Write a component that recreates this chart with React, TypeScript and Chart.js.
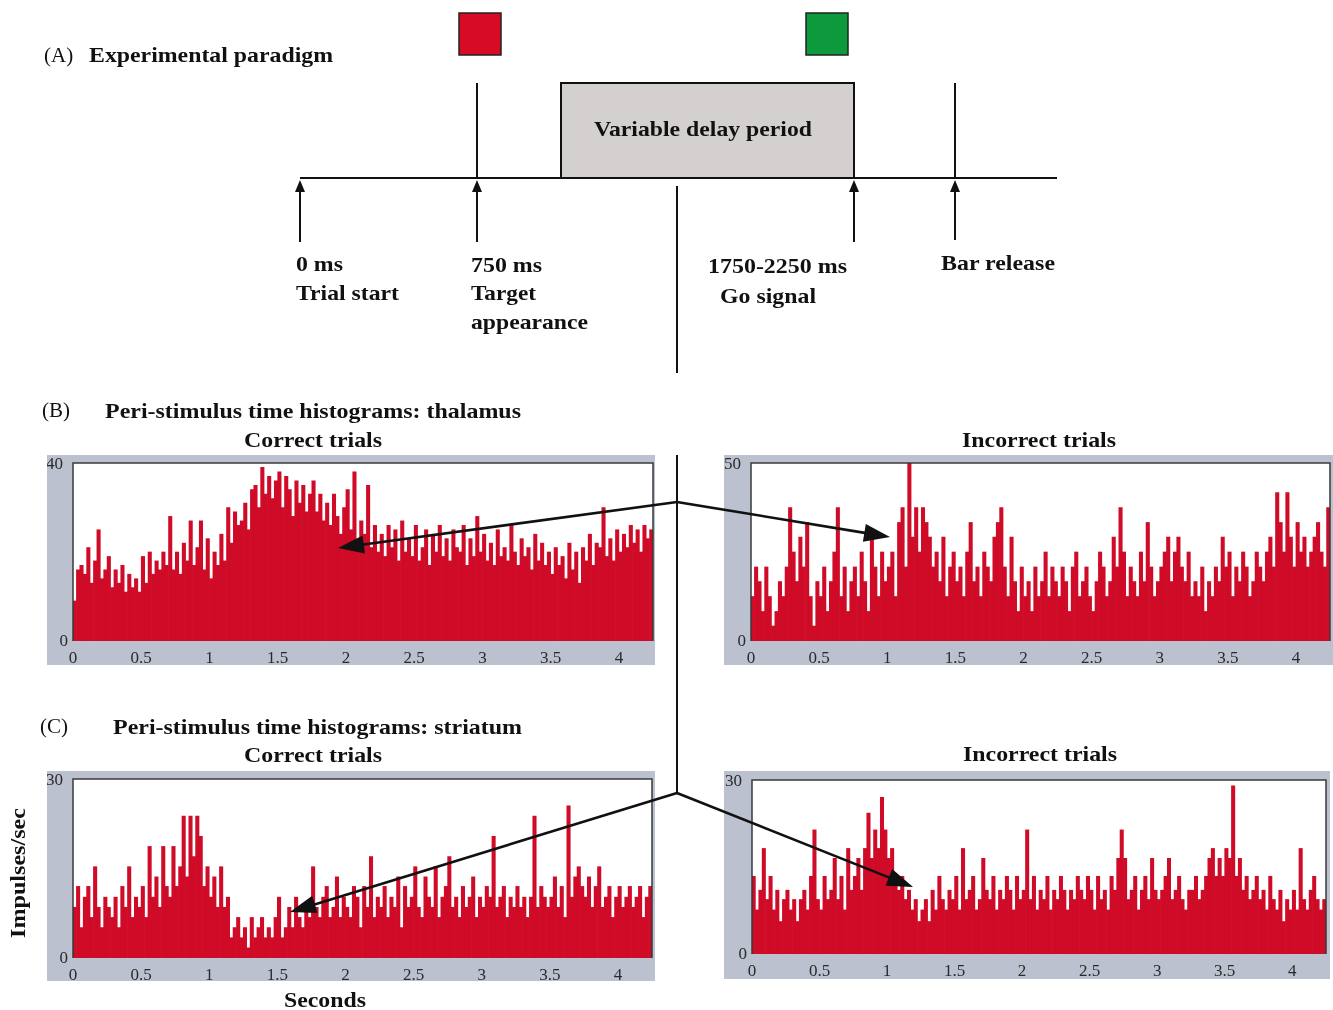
import React, { useEffect, useRef } from "react";
import { Chart, registerables } from "chart.js";

Chart.register(...registerables);

// ---------- data ----------
const BIN_WIDTH_S = 0.025;
const X_MAX = 4.25;
const X_TICK_STEP = 0.5;
const Y_MAX_THAL_CORRECT = 40;
const Y_MAX_THAL_INCORRECT = 50;
const Y_MAX_STRI_CORRECT = 30;
const Y_MAX_STRI_INCORRECT = 30;

// impulses/sec per 25 ms bin, 0 .. 4.25 s
const THAL_CORRECT = [
  9, 16, 17, 15, 21, 13, 18, 25, 14, 16,
  19, 12, 16, 13, 17, 11, 15, 12, 14, 11,
  19, 13, 20, 15, 18, 16, 20, 17, 28, 16,
  20, 15, 22, 18, 27, 17, 21, 27, 16, 23,
  14, 20, 17, 24, 18, 30, 22, 29, 26, 27,
  31, 25, 34, 35, 30, 39, 33, 37, 32, 36,
  38, 30, 37, 34, 28, 36, 31, 35, 29, 33,
  36, 29, 33, 27, 31, 26, 33, 28, 24, 30,
  34, 25, 38, 22, 27, 24, 35, 21, 26, 20,
  24, 19, 26, 21, 25, 18, 27, 20, 23, 19,
  26, 18, 21, 25, 17, 24, 20, 26, 19, 23,
  18, 25, 21, 20, 26, 17, 23, 19, 28, 20,
  24, 18, 22, 17, 25, 19, 21, 18, 26, 20,
  17, 23, 19, 21, 16, 24, 18, 22, 17, 20,
  15, 21, 17, 19, 14, 22, 16, 20, 13, 21,
  18, 24, 17, 22, 21, 30, 19, 23, 18, 25,
  20, 24, 21, 26, 22, 25, 20, 26, 23, 25,
];

const THAL_INCORRECT = [
  12.5, 20.8, 16.7, 8.3, 20.8, 12.5, 4.2, 8.3, 16.7, 12.5,
  20.8, 37.5, 25, 16.7, 29.2, 20.8, 33.3, 12.5, 4.2, 16.7,
  12.5, 20.8, 8.3, 16.7, 25, 37.5, 12.5, 20.8, 8.3, 16.7,
  20.8, 12.5, 25, 16.7, 8.3, 29.2, 20.8, 12.5, 25, 16.7,
  20.8, 25, 12.5, 33.3, 37.5, 20.8, 50, 29.2, 37.5, 25,
  37.5, 33.3, 29.2, 20.8, 25, 16.7, 29.2, 12.5, 20.8, 25,
  16.7, 20.8, 12.5, 25, 33.3, 16.7, 20.8, 12.5, 25, 20.8,
  16.7, 29.2, 33.3, 37.5, 20.8, 12.5, 29.2, 16.7, 8.3, 20.8,
  12.5, 16.7, 8.3, 20.8, 12.5, 16.7, 25, 12.5, 20.8, 16.7,
  12.5, 20.8, 16.7, 8.3, 20.8, 25, 12.5, 16.7, 20.8, 12.5,
  8.3, 16.7, 25, 20.8, 12.5, 16.7, 29.2, 20.8, 37.5, 25,
  12.5, 20.8, 16.7, 12.5, 25, 16.7, 33.3, 20.8, 12.5, 16.7,
  20.8, 25, 29.2, 16.7, 25, 29.2, 20.8, 16.7, 25, 12.5,
  16.7, 12.5, 20.8, 8.3, 16.7, 12.5, 20.8, 16.7, 29.2, 20.8,
  25, 12.5, 20.8, 16.7, 25, 20.8, 12.5, 16.7, 25, 20.8,
  16.7, 25, 29.2, 20.8, 41.7, 33.3, 25, 41.7, 29.2, 20.8,
  33.3, 25, 29.2, 20.8, 25, 29.2, 33.3, 25, 20.8, 37.5,
];

const STRI_CORRECT = [
  8.5, 12, 5.1, 10.2, 12, 6.8, 15.3, 8.5, 5.1, 10.2,
  8.5, 6.8, 10.2, 5.1, 12, 8.5, 15.3, 6.8, 10.2, 8.5,
  12, 6.8, 18.7, 10.2, 13.6, 8.5, 18.7, 12, 10.2, 18.7,
  12, 15.3, 23.8, 13.6, 23.8, 17, 23.8, 20.4, 12, 15.3,
  10.2, 13.6, 8.5, 15.3, 8.5, 10.2, 3.4, 5.1, 6.8, 3.4,
  5.1, 1.7, 6.8, 3.4, 5.1, 6.8, 3.4, 5.1, 3.4, 6.8,
  10.2, 3.4, 5.1, 8.5, 5.1, 10.2, 6.8, 5.1, 8.5, 6.8,
  15.3, 8.5, 6.8, 10.2, 12, 6.8, 8.5, 13.6, 6.8, 10.2,
  8.5, 6.8, 12, 10.2, 5.1, 12, 8.5, 17, 6.8, 10.2,
  8.5, 12, 6.8, 10.2, 8.5, 13.6, 5.1, 12, 8.5, 10.2,
  15.3, 8.5, 6.8, 13.6, 10.2, 8.5, 15.3, 6.8, 10.2, 12,
  17, 8.5, 10.2, 6.8, 12, 8.5, 10.2, 13.6, 6.8, 10.2,
  8.5, 12, 10.2, 20.4, 8.5, 10.2, 12, 6.8, 10.2, 8.5,
  12, 8.5, 10.2, 6.8, 10.2, 23.8, 8.5, 12, 10.2, 8.5,
  10.2, 13.6, 8.5, 12, 6.8, 25.5, 10.2, 13.6, 15.3, 12,
  10.2, 13.6, 8.5, 12, 15.3, 8.5, 10.2, 12, 6.8, 10.2,
  12, 8.5, 10.2, 12, 8.5, 10.2, 12, 6.8, 10.2, 12,
];

const STRI_INCORRECT = [
  13.4, 7.6, 11, 18.2, 9.4, 13.4, 7.6, 11, 5.6, 9.4,
  11, 7.6, 9.4, 5.6, 9.4, 11, 7.6, 13.4, 21.4, 9.4,
  7.6, 13.4, 9.4, 11, 16.5, 9.4, 13.4, 7.6, 18.2, 11,
  13.4, 16.5, 11, 18.2, 24.3, 16.5, 21.4, 18.2, 27, 21.4,
  16.5, 18.2, 13.4, 11, 13.4, 9.4, 11, 7.6, 9.4, 5.6,
  7.6, 9.4, 5.6, 11, 7.6, 13.4, 9.4, 7.6, 11, 9.4,
  13.4, 7.6, 18.2, 9.4, 11, 13.4, 7.6, 9.4, 16.5, 11,
  9.4, 13.4, 7.6, 11, 9.4, 13.4, 11, 7.6, 13.4, 9.4,
  11, 21.4, 9.4, 13.4, 7.6, 11, 9.4, 13.4, 7.6, 11,
  9.4, 13.4, 11, 7.6, 11, 9.4, 13.4, 11, 9.4, 13.4,
  11, 7.6, 13.4, 9.4, 11, 7.6, 13.4, 11, 16.5, 21.4,
  16.5, 9.4, 11, 13.4, 7.6, 11, 13.4, 9.4, 16.5, 11,
  9.4, 11, 13.4, 16.5, 9.4, 11, 13.4, 9.4, 7.6, 11,
  11, 13.4, 9.4, 11, 13.4, 16.5, 18.2, 13.4, 16.5, 13.4,
  18.2, 16.5, 29, 13.4, 16.5, 11, 13.4, 9.4, 11, 13.4,
  9.4, 11, 7.6, 13.4, 9.4, 7.6, 11, 5.6, 9.4, 7.6,
  11, 7.6, 18.2, 9.4, 7.6, 11, 13.4, 9.4, 7.6, 9.4,
];

// ---------- styles ----------
const SERIF = "'Liberation Serif', 'DejaVu Serif', serif";
const BAR_RED = "#cf0b27";
const PANEL_GRAY = "#bcc1cf";
const FRAME = "#3a3a3a";
const TICK_COLOR = "#2a2a2a";
const TICK_FONT_SIZE = 17;

type Box = { left: number; top: number; width: number; height: number };
type Pad = { yAxis: number; top: number; right: number; xAxis: number };

function Histogram(props: { values: number[]; yMax: number; box: Box; pad: Pad }) {
  const ref = useRef<HTMLCanvasElement | null>(null);
  const { values, yMax, box, pad } = props;
  useEffect(() => {
    if (!ref.current) return;
    const bg = {
      id: "panelBg",
      beforeDraw(chart: any) {
        const { ctx, chartArea: a } = chart;
        ctx.save();
        ctx.fillStyle = PANEL_GRAY;
        ctx.fillRect(0, 0, chart.width, chart.height);
        ctx.fillStyle = "#ffffff";
        ctx.fillRect(a.left, a.top, a.right - a.left, a.bottom - a.top);
        ctx.restore();
      },
      afterDraw(chart: any) {
        const { ctx, chartArea: a } = chart;
        const ys = chart.scales.y;
        ctx.save();
        ctx.strokeStyle = FRAME;
        ctx.lineWidth = 1.5;
        ctx.beginPath();
        ctx.moveTo(a.left, a.bottom);
        ctx.lineTo(a.left, a.top);
        ctx.lineTo(a.right, a.top);
        ctx.lineTo(a.right, a.bottom);
        ctx.stroke();
        // y tick labels (only 0 and max), placed like the original
        ctx.fillStyle = TICK_COLOR;
        ctx.font = `${TICK_FONT_SIZE}px ${SERIF}`;
        ctx.textAlign = "right";
        ctx.textBaseline = "middle";
        ctx.fillText(String(yMax), a.left - 10, ys.getPixelForValue(yMax) + 2);
        ctx.fillText("0", a.left - 5, ys.getPixelForValue(0) + 1);
        ctx.restore();
      },
    };
    const chart = new Chart(ref.current, {
      type: "bar",
      data: {
        datasets: [
          {
            data: values.map((v, i) => ({ x: (i + 0.5) * BIN_WIDTH_S, y: v })),
            backgroundColor: BAR_RED,
            borderWidth: 0,
            barPercentage: 1,
            categoryPercentage: 1,
          },
        ],
      },
      options: {
        animation: false,
        responsive: false,
        maintainAspectRatio: false,
        layout: { padding: { top: pad.top, right: pad.right, left: 0, bottom: 0 } },
        plugins: { legend: { display: false }, tooltip: { enabled: false } },
        scales: {
          x: {
            type: "linear",
            min: 0,
            max: X_MAX,
            offset: false,
            grid: { display: false, drawTicks: false },
            border: { display: false },
            ticks: {
              stepSize: X_TICK_STEP,
              includeBounds: false,
              autoSkip: false,
              maxRotation: 0,
              padding: 7,
              color: TICK_COLOR,
              font: { family: SERIF, size: TICK_FONT_SIZE },
              callback: (v: any) => String(Number(v)),
            },
            afterFit: (s: any) => {
              s.height = pad.xAxis;
            },
          },
          y: {
            min: 0,
            max: yMax,
            grid: { display: false, drawTicks: false },
            border: { display: false },
            ticks: { display: false, stepSize: yMax },
            afterFit: (s: any) => {
              s.width = pad.yAxis;
            },
          },
        },
      } as any,
      plugins: [bg],
    });
    return () => chart.destroy();
  }, [values, yMax, box, pad]);
  return (
    <canvas
      ref={ref}
      width={box.width}
      height={box.height}
      style={{ position: "absolute", left: box.left, top: box.top, width: box.width, height: box.height }}
    />
  );
}

const BOX_TC: Box = { left: 47, top: 455, width: 608, height: 210 };
const PAD_TC: Pad = { yAxis: 26, top: 8, right: 2, xAxis: 24 };
const BOX_TI: Box = { left: 724, top: 455, width: 609, height: 210 };
const PAD_TI: Pad = { yAxis: 27, top: 8, right: 3, xAxis: 24 };
const BOX_SC: Box = { left: 47, top: 771, width: 608, height: 210 };
const PAD_SC: Pad = { yAxis: 26, top: 8, right: 3, xAxis: 23 };
const BOX_SI: Box = { left: 724, top: 771, width: 606, height: 208 };
const PAD_SI: Pad = { yAxis: 28, top: 9, right: 4, xAxis: 25 };

function arrowHead(x1: number, y1: number, x2: number, y2: number, len: number, half: number) {
  const dx = x2 - x1;
  const dy = y2 - y1;
  const d = Math.hypot(dx, dy);
  const ux = dx / d;
  const uy = dy / d;
  const bx = x2 - ux * len;
  const by = y2 - uy * len;
  const px = -uy * half;
  const py = ux * half;
  return `${x2},${y2} ${bx + px},${by + py} ${bx - px},${by - py}`;
}

function Arrow(p: { x1: number; y1: number; x2: number; y2: number; len?: number; half?: number; w?: number }) {
  const len = p.len ?? 26;
  const half = p.half ?? 9;
  const d = Math.hypot(p.x2 - p.x1, p.y2 - p.y1);
  const ex = p.x2 - ((p.x2 - p.x1) / d) * (len - 2);
  const ey = p.y2 - ((p.y2 - p.y1) / d) * (len - 2);
  return (
    <g>
      <line x1={p.x1} y1={p.y1} x2={ex} y2={ey} stroke="#111" strokeWidth={p.w ?? 2.6} />
      <polygon points={arrowHead(p.x1, p.y1, p.x2, p.y2, len, half)} fill="#111" />
    </g>
  );
}

function T(p: { x: number; y: number; w?: number; bold?: boolean; size?: number; anchor?: string; children: string }) {
  return (
    <text
      x={p.x}
      y={p.y}
      fontFamily={SERIF}
      fontWeight={p.bold === false ? "normal" : "bold"}
      fontSize={p.size ?? 21}
      textAnchor={(p.anchor as any) ?? "start"}
      fill="#111"
      textLength={p.w}
      lengthAdjust={p.w ? "spacingAndGlyphs" : undefined}
    >
      {p.children}
    </text>
  );
}

export default function App() {
  return (
    <div style={{ position: "absolute", left: 0, top: 0, width: 1333, height: 1010, background: "#fff", overflow: "hidden" }}>
      <Histogram values={THAL_CORRECT} yMax={Y_MAX_THAL_CORRECT} box={BOX_TC} pad={PAD_TC} />
      <Histogram values={THAL_INCORRECT} yMax={Y_MAX_THAL_INCORRECT} box={BOX_TI} pad={PAD_TI} />
      <Histogram values={STRI_CORRECT} yMax={Y_MAX_STRI_CORRECT} box={BOX_SC} pad={PAD_SC} />
      <Histogram values={STRI_INCORRECT} yMax={Y_MAX_STRI_INCORRECT} box={BOX_SI} pad={PAD_SI} />
      <svg width={1333} height={1010} style={{ position: "absolute", left: 0, top: 0, pointerEvents: "none" }}>
        {/* (A) paradigm */}
        <T x={44} y={62} bold={false} size={21}>(A)</T>
        <T x={89} y={62} w={244}>Experimental paradigm</T>
        <rect x={459} y={13} width={42} height={42} fill="#d80b26" stroke="#222" strokeWidth={1.5} />
        <rect x={806} y={13} width={42} height={42} fill="#0d9a3c" stroke="#222" strokeWidth={1.5} />
        <rect x={561} y={83} width={293} height={95} fill="#d3d0cf" stroke="#111" strokeWidth={2} />
        <T x={703} y={136} w={218} anchor="middle">Variable delay period</T>
        <line x1={300} y1={178} x2={1057} y2={178} stroke="#111" strokeWidth={2} />
        <line x1={477} y1={83} x2={477} y2={178} stroke="#111" strokeWidth={2} />
        <line x1={955} y1={83} x2={955} y2={178} stroke="#111" strokeWidth={2} />
        <Arrow x1={300} y1={242} x2={300} y2={180} len={12} half={5} w={2} />
        <Arrow x1={477} y1={242} x2={477} y2={180} len={12} half={5} w={2} />
        <Arrow x1={854} y1={242} x2={854} y2={180} len={12} half={5} w={2} />
        <Arrow x1={955} y1={240} x2={955} y2={180} len={12} half={5} w={2} />
        <T x={296} y={271} w={47}>0 ms</T>
        <T x={296} y={300} w={103}>Trial start</T>
        <T x={471} y={272} w={71}>750 ms</T>
        <T x={471} y={300} w={65}>Target</T>
        <T x={471} y={329} w={117}>appearance</T>
        <T x={708} y={273} w={139}>1750-2250 ms</T>
        <T x={720} y={303} w={96}>Go signal</T>
        <T x={941} y={270} w={114}>Bar release</T>
        <line x1={677} y1={186} x2={677} y2={373} stroke="#111" strokeWidth={2} />
        {/* (B) */}
        <T x={42} y={417} bold={false}>(B)</T>
        <T x={105} y={418} w={416}>Peri-stimulus time histograms: thalamus</T>
        <T x={313} y={447} w={138} anchor="middle">Correct trials</T>
        <T x={1039} y={447} w={154} anchor="middle">Incorrect trials</T>
        {/* (C) */}
        <T x={40} y={733} bold={false}>(C)</T>
        <T x={113} y={734} w={409}>Peri-stimulus time histograms: striatum</T>
        <T x={313} y={762} w={138} anchor="middle">Correct trials</T>
        <T x={1040} y={761} w={154} anchor="middle">Incorrect trials</T>
        {/* connector lines */}
        <line x1={677} y1={455} x2={677} y2={793} stroke="#111" strokeWidth={2} />
        <Arrow x1={677} y1={502} x2={338} y2={548} />
        <Arrow x1={677} y1={502} x2={890} y2={537} />
        <Arrow x1={677} y1={793} x2={290} y2={912} />
        <Arrow x1={677} y1={793} x2={913} y2={887} />
        {/* axis titles */}
        <g transform="translate(25,873) rotate(-90)">
          <T x={0} y={0} w={130} anchor="middle">Impulses/sec</T>
        </g>
        <T x={325} y={1007} w={82} anchor="middle">Seconds</T>
      </svg>
    </div>
  );
}
